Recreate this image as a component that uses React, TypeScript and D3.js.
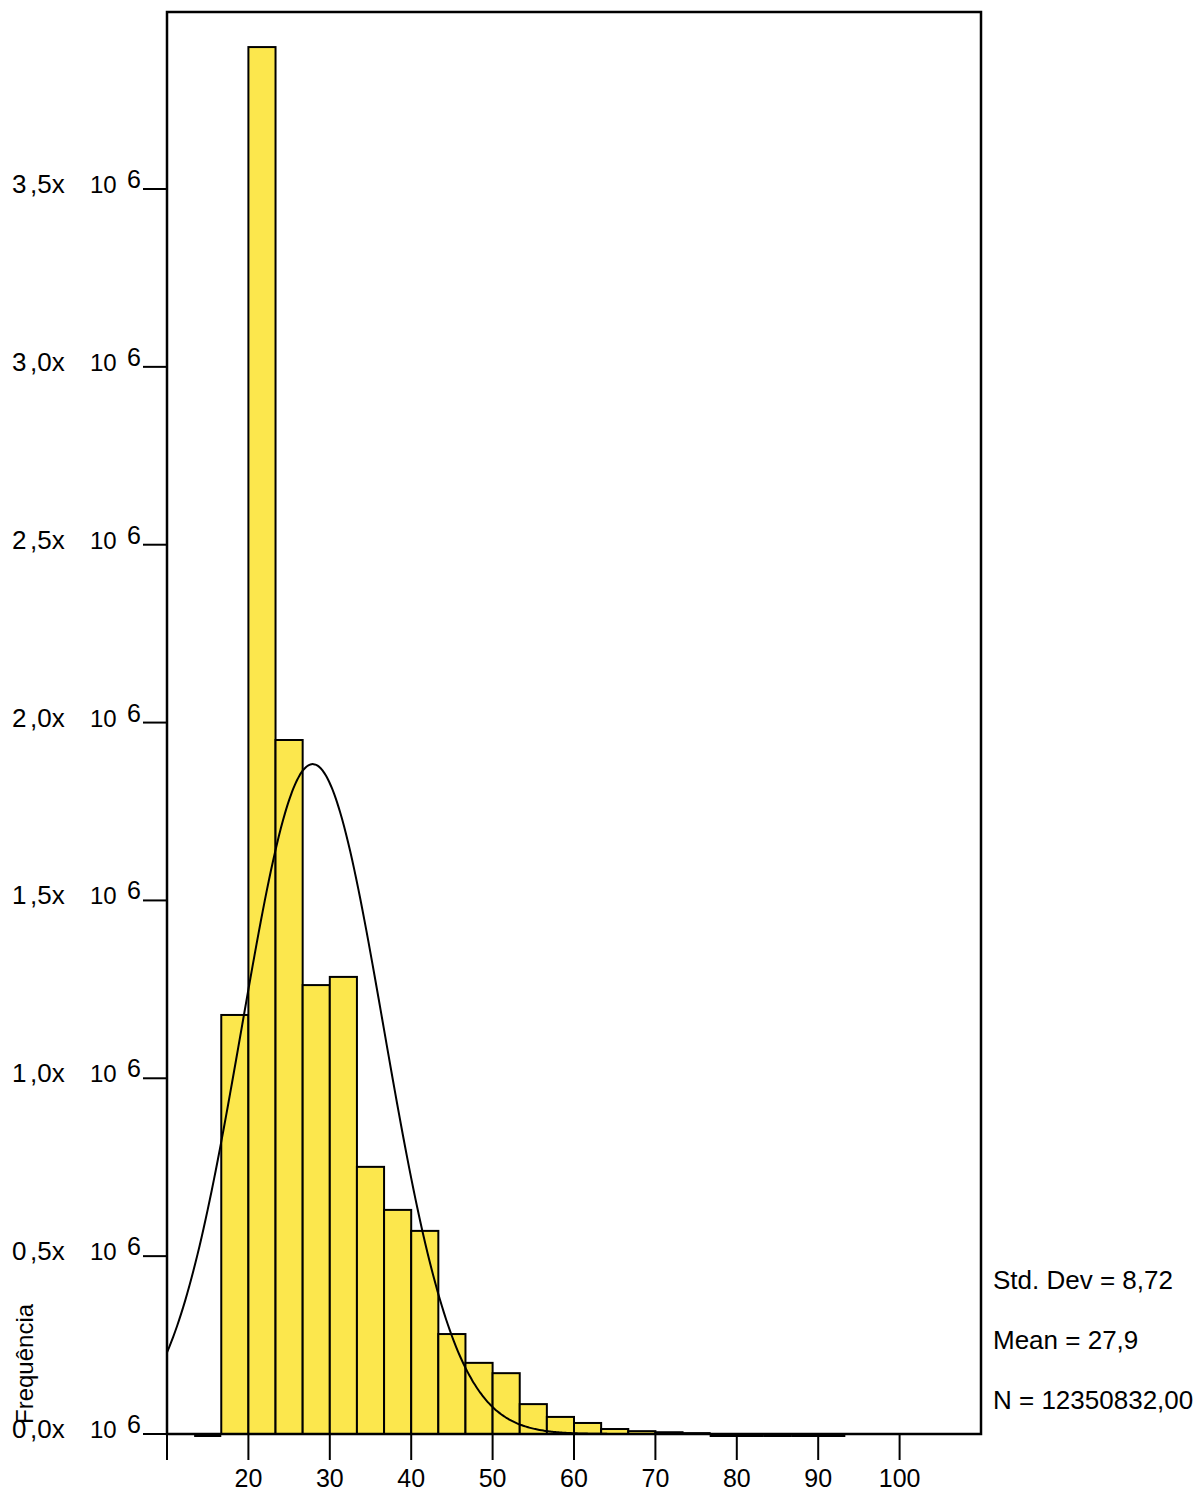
import React from "react";
import * as d3 from "d3";

// histogram bins (left edge of each bin, width 10/3)
const binStarts = [
  13.333, 16.667, 20, 23.333, 26.667, 30, 33.333, 36.667, 40, 43.333, 46.667,
  50, 53.333, 56.667, 60, 63.333, 66.667, 70, 73.333, 76.667, 80, 83.333,
  86.667, 90,
];
const counts = [
  0, 1178000, 3899000, 1951000, 1262000, 1285000, 751000, 630000, 571000,
  281000, 200000, 171000, 84000, 48000, 31000, 14000, 8000, 5000, 2500, 0, 0,
  0, 0, 0,
];
const binWidth = 10 / 3;

const yTicks = [0, 0.5e6, 1e6, 1.5e6, 2e6, 2.5e6, 3e6, 3.5e6];
const yTickLabels = ["0,0", "0,5", "1,0", "1,5", "2,0", "2,5", "3,0", "3,5"];
const xTicks = [10, 20, 30, 40, 50, 60, 70, 80, 90, 100];
const xTickLabels = ["", "20", "30", "40", "50", "60", "70", "80", "90", "100"];

const stats = ["Std. Dev = 8,72", "Mean = 27,9", "N = 12350832,00"];
const mean = 27.9;
const stdDev = 8.72;
const total = 12350832;

const W = 1203;
const H = 1494;
const left = 167;
const right = 981;
const top = 12;
const bottom = 1434;
const font = "'Liberation Sans', Arial, sans-serif";

export default function App() {
  const x = d3.scaleLinear().domain([10, 110]).range([left, right]);
  const y = d3.scaleLinear().domain([0, 3.5e6]).range([bottom, 189]);

  const curvePts = d3.range(10, 110.01, 0.25).map((v) => {
    const z = (v - mean) / stdDev;
    const dens =
      ((total * binWidth) / (stdDev * Math.sqrt(2 * Math.PI))) *
      Math.exp(-0.5 * z * z);
    return [v, dens] as [number, number];
  });
  const line = d3
    .line<[number, number]>()
    .x((d) => x(d[0]))
    .y((d) => y(d[1]))
    .curve(d3.curveBasis);

  return (
    <svg
      width={W}
      height={H}
      style={{ position: "absolute", left: 0, top: 0, background: "#fff" }}
      fontFamily={font}
    >
      {binStarts.map((b, i) =>
        counts[i] === 0 ? (
          // empty bins show up as a thick line just under the axis
          <line
            key={i}
            x1={x(b)}
            x2={x(b + binWidth)}
            y1={bottom + 1.5}
            y2={bottom + 1.5}
            stroke="#000"
            strokeWidth={3}
          />
        ) : (
          <rect
            key={i}
            x={x(b)}
            y={y(counts[i])}
            width={x(b + binWidth) - x(b)}
            height={bottom - y(counts[i])}
            fill="#FCE74D"
            stroke="#000"
            strokeWidth={2}
          />
        )
      )}

      <path d={line(curvePts) || ""} fill="none" stroke="#000" strokeWidth={2} />

      <rect
        x={left}
        y={top}
        width={right - left}
        height={bottom - top}
        fill="none"
        stroke="#000"
        strokeWidth={2.5}
      />

      {yTicks.map((t, i) => (
        <g key={t}>
          <line x1={143} x2={left} y1={y(t)} y2={y(t)} stroke="#000" strokeWidth={2} />
          <text x={12} y={y(t) + 4} fontSize={26} fill="#000">
            {yTickLabels[i].slice(0, 1)}
          </text>
          <text x={30} y={y(t) + 4} fontSize={26} fill="#000">
            {yTickLabels[i].slice(1) + "x"}
          </text>
          <text x={90} y={y(t) + 4} fontSize={24} fill="#000">
            10
          </text>
          <text x={127} y={y(t) - 1} fontSize={25} fill="#000">
            6
          </text>
        </g>
      ))}

      {xTicks.map((t, i) => (
        <g key={t}>
          <line x1={x(t)} x2={x(t)} y1={bottom} y2={1460} stroke="#000" strokeWidth={2} />
          <text x={x(t)} y={1487} fontSize={25} textAnchor="middle" fill="#000">
            {xTickLabels[i]}
          </text>
        </g>
      ))}

      <text
        transform="translate(33,1424) rotate(-90)"
        fontSize={24}
        fill="#000"
      >
        Frequência
      </text>

      {stats.map((s, i) => (
        <text key={s} x={993} y={1289 + i * 60} fontSize={26} fill="#000">
          {s}
        </text>
      ))}
    </svg>
  );
}
